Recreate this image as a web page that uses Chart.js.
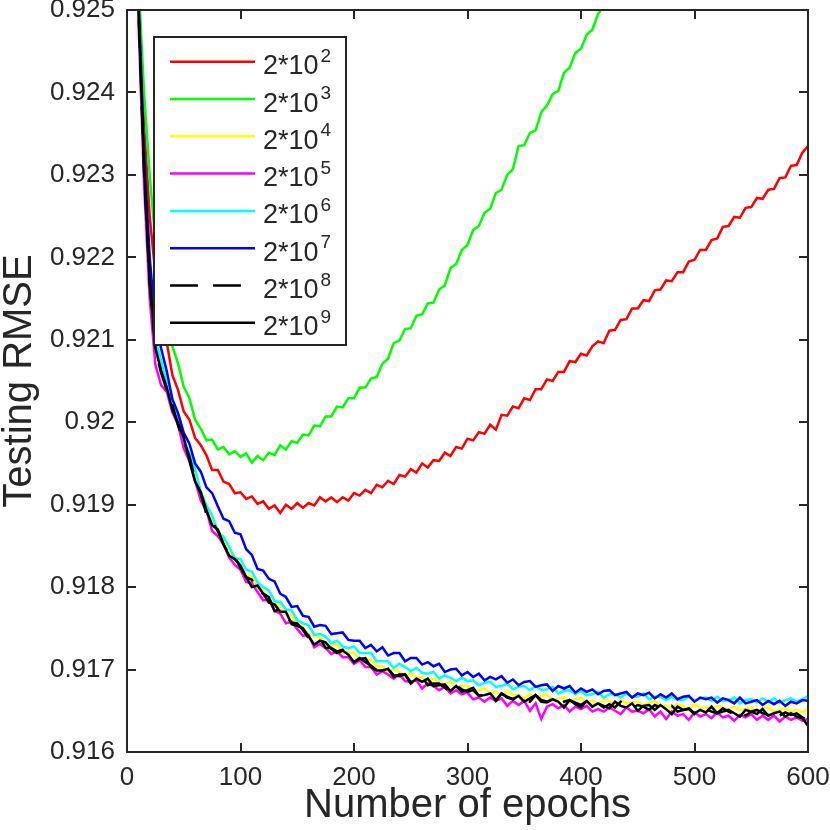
<!DOCTYPE html>
<html><head><meta charset="utf-8">
<script src="https://cdn.jsdelivr.net/npm/chart.js@4.4.1/dist/chart.umd.min.js"></script>
<style>html,body{margin:0;padding:0;background:#fff;}canvas{display:block;}</style>
</head><body>
<canvas id="c" width="830" height="830"></canvas>
<script>
const epochs = [0,5,10,15,20,25,30,
35,40,45,50,55,60,65,70,75,80,
85,90,95,100,105,110,115,120,125,130,
135,140,145,150,155,160,165,170,175,180,
185,190,195,200,205,210,215,220,225,230,
235,240,245,250,255,260,265,270,275,280,
285,290,295,300,305,310,315,320,325,330,
335,340,345,350,355,360,365,370,375,380,
385,390,395,400,405,410,415,420,425,430,
435,440,445,450,455,460,465,470,475,480,
485,490,495,500,505,510,515,520,525,530,
535,540,545,550,555,560,565,570,575,580,
585,590,595,600];

const s2e2 = [0.94000,0.92950,0.92530,0.92360,0.92250,0.92180,0.92130,
0.92097,0.92057,0.92039,0.92013,0.92003,0.91981,0.91972,0.91960,0.91942,0.91942,
0.91928,0.91925,0.91914,0.91915,0.91907,0.91910,0.91901,0.91904,0.91895,0.91899,
0.91890,0.91900,0.91895,0.91902,0.91896,0.91902,0.91899,0.91909,0.91904,0.91909,
0.91903,0.91909,0.91905,0.91914,0.91911,0.91918,0.91914,0.91924,0.91921,0.91929,
0.91925,0.91936,0.91934,0.91943,0.91939,0.91950,0.91945,0.91954,0.91953,0.91963,
0.91959,0.91970,0.91968,0.91980,0.91978,0.91988,0.91986,0.91997,0.91991,0.92009,
0.92008,0.92019,0.92017,0.92029,0.92027,0.92040,0.92040,0.92052,0.92050,0.92061,
0.92061,0.92074,0.92073,0.92083,0.92081,0.92092,0.92098,0.92096,0.92111,0.92112,
0.92124,0.92125,0.92138,0.92138,0.92148,0.92147,0.92160,0.92161,0.92172,0.92171,
0.92182,0.92182,0.92195,0.92197,0.92209,0.92209,0.92221,0.92223,0.92237,0.92238,
0.92249,0.92248,0.92260,0.92261,0.92272,0.92271,0.92282,0.92283,0.92296,0.92297,
0.92311,0.92312,0.92327,0.92335];

const s2e3 = [0.94000,0.92970,0.92540,0.92400,0.92300,0.92220,0.92165,
0.92127,0.92092,0.92071,0.92043,0.92029,0.92003,0.91992,0.91978,0.91979,0.91967,
0.91970,0.91961,0.91965,0.91958,0.91962,0.91951,0.91959,0.91954,0.91963,0.91960,
0.91972,0.91967,0.91977,0.91975,0.91985,0.91984,0.91996,0.91995,0.92007,0.92007,
0.92019,0.92018,0.92029,0.92029,0.92042,0.92042,0.92053,0.92055,0.92071,0.92077,
0.92096,0.92099,0.92113,0.92114,0.92129,0.92131,0.92144,0.92145,0.92161,0.92166,
0.92187,0.92192,0.92209,0.92215,0.92233,0.92238,0.92254,0.92259,0.92278,0.92282,
0.92300,0.92307,0.92335,0.92336,0.92351,0.92354,0.92376,0.92384,0.92398,0.92402,
0.92424,0.92430,0.92448,0.92453,0.92470,0.92476,0.92495,0.92505,0.92518,0.92530,
null,null,null,null,null,null,null,null,null,null,
null,null,null,null,null,null,null,null,null,null,
null,null,null,null,null,null,null,null,null,null,
null,null,null,null];

const s2e4 = [0.94000,0.92900,0.92515,0.92315,0.92175,0.92095,0.92068,
0.92044,0.92019,0.92003,0.91979,0.91961,0.91933,0.91916,0.91900,0.91879,0.91868,
0.91859,0.91841,0.91837,0.91827,0.91814,0.91813,0.91800,0.91796,0.91783,0.91783,
0.91774,0.91766,0.91766,0.91755,0.91752,0.91742,0.91741,0.91739,0.91730,0.91729,
0.91730,0.91720,0.91721,0.91720,0.91712,0.91712,0.91712,0.91704,0.91704,0.91697,
0.91701,0.91697,0.91692,0.91696,0.91690,0.91691,0.91684,0.91689,0.91685,0.91682,
0.91685,0.91678,0.91680,0.91680,0.91672,0.91675,0.91677,0.91671,0.91673,0.91668,
0.91674,0.91669,0.91669,0.91665,0.91670,0.91666,0.91668,0.91670,0.91663,0.91665,
0.91666,0.91660,0.91664,0.91666,0.91660,0.91662,0.91658,0.91663,0.91662,0.91656,
0.91663,0.91659,0.91660,0.91661,0.91656,0.91660,0.91662,0.91655,0.91657,0.91653,
0.91658,0.91656,0.91651,0.91658,0.91653,0.91654,0.91651,0.91656,0.91654,0.91651,
0.91655,0.91651,0.91652,0.91654,0.91649,0.91653,0.91654,0.91649,0.91651,0.91653,
0.91649,0.91651,0.91648,0.91652];

const s2e5 = [0.94000,0.92880,0.92490,0.92290,0.92150,0.92070,0.92045,
0.92037,0.92012,0.91997,0.91968,0.91953,0.91929,0.91905,0.91893,0.91868,0.91862,
0.91852,0.91836,0.91827,0.91821,0.91806,0.91805,0.91794,0.91784,0.91785,0.91771,
0.91768,0.91756,0.91758,0.91749,0.91741,0.91742,0.91727,0.91731,0.91726,0.91719,
0.91722,0.91715,0.91715,0.91707,0.91711,0.91703,0.91703,0.91694,0.91698,0.91694,
0.91689,0.91694,0.91686,0.91685,0.91687,0.91677,0.91683,0.91680,0.91675,0.91679,
0.91671,0.91675,0.91670,0.91672,0.91664,0.91666,0.91661,0.91666,0.91662,0.91665,
0.91656,0.91662,0.91657,0.91662,0.91650,0.91659,0.91640,0.91655,0.91658,0.91653,
0.91657,0.91649,0.91655,0.91652,0.91656,0.91649,0.91652,0.91649,0.91654,0.91650,
0.91646,0.91654,0.91649,0.91650,0.91647,0.91652,0.91643,0.91649,0.91640,0.91649,
0.91644,0.91646,0.91639,0.91648,0.91643,0.91646,0.91641,0.91648,0.91642,0.91644,
0.91638,0.91645,0.91642,0.91646,0.91639,0.91644,0.91639,0.91644,0.91637,0.91643,
0.91639,0.91642,0.91638,0.91640];

const s2e6 = [0.94000,0.92900,0.92515,0.92318,0.92180,0.92100,0.92075,
0.92048,0.92023,0.92007,0.91980,0.91962,0.91943,0.91916,0.91899,0.91887,0.91867,
0.91861,0.91849,0.91835,0.91834,0.91821,0.91819,0.91806,0.91800,0.91796,0.91783,
0.91782,0.91773,0.91772,0.91760,0.91756,0.91754,0.91742,0.91743,0.91740,0.91732,
0.91735,0.91728,0.91726,0.91728,0.91720,0.91720,0.91720,0.91710,0.91710,0.91710,
0.91702,0.91707,0.91703,0.91698,0.91702,0.91696,0.91695,0.91697,0.91689,0.91693,
0.91690,0.91686,0.91690,0.91686,0.91687,0.91681,0.91684,0.91685,0.91679,0.91680,
0.91683,0.91676,0.91679,0.91680,0.91675,0.91680,0.91675,0.91676,0.91679,0.91671,
0.91674,0.91675,0.91670,0.91674,0.91669,0.91670,0.91673,0.91666,0.91670,0.91670,
0.91666,0.91671,0.91667,0.91667,0.91671,0.91664,0.91667,0.91667,0.91663,0.91667,
0.91663,0.91663,0.91667,0.91662,0.91665,0.91666,0.91662,0.91667,0.91662,0.91663,
0.91666,0.91659,0.91663,0.91664,0.91660,0.91665,0.91661,0.91665,0.91660,0.91663,
0.91665,0.91661,0.91664,0.91668];

const s2e7 = [0.94000,0.92910,0.92520,0.92330,0.92200,0.92120,0.92090,
0.92062,0.92028,0.92011,0.91987,0.91974,0.91950,0.91940,0.91921,0.91914,0.91898,
0.91883,0.91880,0.91866,0.91864,0.91846,0.91839,0.91822,0.91820,0.91810,0.91807,
0.91792,0.91788,0.91776,0.91777,0.91765,0.91764,0.91752,0.91754,0.91753,0.91743,
0.91744,0.91745,0.91736,0.91735,0.91735,0.91726,0.91730,0.91722,0.91727,0.91717,
0.91720,0.91720,0.91710,0.91714,0.91714,0.91706,0.91709,0.91704,0.91707,0.91697,
0.91700,0.91701,0.91693,0.91697,0.91691,0.91695,0.91687,0.91691,0.91688,0.91692,
0.91684,0.91688,0.91681,0.91685,0.91686,0.91679,0.91681,0.91682,0.91674,0.91680,
0.91677,0.91680,0.91672,0.91677,0.91673,0.91676,0.91670,0.91674,0.91675,0.91669,
0.91671,0.91673,0.91666,0.91671,0.91669,0.91672,0.91665,0.91670,0.91666,0.91671,
0.91664,0.91667,0.91668,0.91661,0.91666,0.91664,0.91666,0.91660,0.91665,0.91663,
0.91659,0.91666,0.91659,0.91661,0.91663,0.91657,0.91662,0.91658,0.91662,0.91656,
0.91661,0.91659,0.91663,0.91662];

const s2e8 = [0.94000,0.92900,0.92505,0.92305,0.92168,0.92088,0.92060,
0.92039,0.92021,0.91996,0.91977,0.91959,0.91930,0.91913,0.91888,0.91880,0.91868,
0.91852,0.91839,0.91837,0.91823,0.91812,0.91809,0.91795,0.91792,0.91788,0.91771,
0.91773,0.91765,0.91757,0.91756,0.91748,0.91738,0.91739,0.91738,0.91726,0.91726,
0.91722,0.91724,0.91715,0.91709,0.91714,0.91709,0.91705,0.91699,0.91701,0.91701,
0.91693,0.91692,0.91694,0.91685,0.91688,0.91691,0.91681,0.91683,0.91683,0.91678,
0.91673,0.91681,0.91676,0.91673,0.91675,0.91668,0.91670,0.91671,0.91662,0.91671,
0.91667,0.91664,0.91668,0.91664,0.91661,0.91669,0.91663,0.91661,0.91664,0.91657,
0.91661,0.91663,0.91658,0.91654,0.91662,0.91658,0.91659,0.91654,0.91658,0.91654,
0.91661,0.91655,0.91653,0.91657,0.91655,0.91651,0.91657,0.91654,0.91651,0.91656,
0.91649,0.91651,0.91652,0.91646,0.91653,0.91652,0.91649,0.91647,0.91653,0.91649,
0.91646,0.91650,0.91644,0.91649,0.91651,0.91647,0.91645,0.91651,0.91644,0.91648,
0.91645,0.91647,0.91642,0.91638];

const s2e9 = [0.94000,0.92900,0.92510,0.92310,0.92170,0.92090,0.92063,
0.92042,0.92015,0.91999,0.91981,0.91953,0.91928,0.91915,0.91893,0.91875,0.91870,
0.91852,0.91838,0.91834,0.91826,0.91812,0.91800,0.91802,0.91792,0.91781,0.91779,
0.91770,0.91770,0.91755,0.91753,0.91750,0.91740,0.91730,0.91735,0.91733,0.91725,
0.91720,0.91723,0.91718,0.91709,0.91713,0.91714,0.91703,0.91699,0.91699,0.91701,
0.91691,0.91694,0.91694,0.91683,0.91689,0.91685,0.91689,0.91680,0.91681,0.91682,
0.91674,0.91680,0.91673,0.91675,0.91678,0.91668,0.91669,0.91671,0.91663,0.91671,
0.91666,0.91664,0.91668,0.91661,0.91665,0.91669,0.91661,0.91660,0.91664,0.91661,
0.91654,0.91663,0.91660,0.91657,0.91662,0.91655,0.91659,0.91656,0.91653,0.91661,
0.91656,0.91654,0.91659,0.91650,0.91656,0.91657,0.91651,0.91657,0.91652,0.91646,
0.91655,0.91651,0.91653,0.91647,0.91651,0.91648,0.91655,0.91647,0.91649,0.91651,
0.91647,0.91643,0.91651,0.91649,0.91646,0.91652,0.91644,0.91647,0.91649,0.91643,
0.91647,0.91643,0.91641,0.91632];

const legendBase = '2*10';
const legendExp = ['2','3','4','5','6','7','8','9'];
const seriesColors = ['#ff0000','#00ff00','#ffff00','#ff00ff','#00ffff','#0000ff','#000000','#000000'];
const seriesDash = [[],[],[],[],[],[],[28,15],[]];
const xTicks = [0,100,200,300,400,500,600];
const yTicks = [0.916,0.917,0.918,0.919,0.920,0.921,0.922,0.923,0.924,0.925];

const allSeries = [s2e2,s2e3,s2e4,s2e5,s2e6,s2e7,s2e8,s2e9];
const FONT = "'Liberation Sans', Arial, Helvetica, sans-serif";
const INK = '#262626';

const datasets = allSeries.map((vals, i) => ({
  label: legendBase + '^' + legendExp[i],
  data: epochs.map((e, j) => ({x: e, y: vals[j]})),
  borderColor: seriesColors[i],
  backgroundColor: seriesColors[i],
  borderWidth: 2.5,
  borderDash: seriesDash[i],
  pointRadius: 0,
  tension: 0,
  fill: false,
  spanGaps: false,
  order: allSeries.length - i
}));

const framePlugin = {
  id: 'frameLegend',
  afterDatasetsDraw(chart) {
    const {ctx, chartArea: a, scales: {x, y}} = chart;
    ctx.save();
    ctx.strokeStyle = INK;
    ctx.lineWidth = 2;
    ctx.setLineDash([]);
    ctx.strokeRect(a.left, a.top, a.right - a.left, a.bottom - a.top);
    const L = 9;
    ctx.beginPath();
    xTicks.forEach(v => {
      const px = Math.round(x.getPixelForValue(v));
      ctx.moveTo(px, a.bottom); ctx.lineTo(px, a.bottom - L);
      ctx.moveTo(px, a.top); ctx.lineTo(px, a.top + L);
    });
    yTicks.forEach(v => {
      const py = Math.round(y.getPixelForValue(v));
      ctx.moveTo(a.left, py); ctx.lineTo(a.left + L, py);
      ctx.moveTo(a.right, py); ctx.lineTo(a.right - L, py);
    });
    ctx.stroke();

    // legend box
    const lx = a.left + 27, ly = a.top + 27, lw = 192, lh = 308;
    ctx.fillStyle = '#ffffff';
    ctx.fillRect(lx, ly, lw, lh);
    ctx.strokeStyle = INK;
    ctx.lineWidth = 2;
    ctx.strokeRect(lx, ly, lw, lh);
    const rowH = 37.3;
    for (let i = 0; i < allSeries.length; i++) {
      const cy = ly + 24.7 + i * rowH;
      ctx.beginPath();
      ctx.strokeStyle = seriesColors[i];
      ctx.lineWidth = 2.5;
      ctx.setLineDash(seriesDash[i]);
      ctx.moveTo(lx + 16, cy);
      ctx.lineTo(lx + 101, cy);
      ctx.stroke();
      ctx.setLineDash([]);
      ctx.fillStyle = INK;
      ctx.textBaseline = 'alphabetic';
      ctx.textAlign = 'left';
      ctx.font = '27px ' + FONT;
      const tx = lx + 109;
      ctx.fillText(legendBase, tx, cy + 12.5);
      const w = ctx.measureText(legendBase).width;
      ctx.font = '19px ' + FONT;
      ctx.fillText(legendExp[i], tx + w + 2, cy);
    }
    ctx.restore();
  }
};

new Chart(document.getElementById('c'), {
  type: 'line',
  data: { datasets },
  options: {
    responsive: false,
    animation: false,
    devicePixelRatio: 1,
    layout: { padding: { left: 0, right: 22, top: 10, bottom: 0 } },
    plugins: { legend: { display: false }, tooltip: { enabled: false } },
    scales: {
      x: {
        type: 'linear',
        min: 0, max: 600,
        afterBuildTicks: s => { s.ticks = xTicks.map(v => ({value: v})); },
        afterFit: s => { s.height = 78; s.paddingLeft = 0; s.paddingRight = 0; },
        grid: { display: false, drawTicks: false },
        border: { display: false },
        ticks: { color: INK, font: { family: FONT, size: 26 }, padding: 10, maxRotation: 0, autoSkip: false },
        title: { display: true, text: 'Number of epochs', color: INK, font: { family: FONT, size: 40, lineHeight: 1 }, padding: { top: 0, bottom: 4 } }
      },
      y: {
        type: 'linear',
        min: 0.916, max: 0.925,
        afterBuildTicks: s => { s.ticks = yTicks.map(v => ({value: v})); },
        afterFit: s => { s.width = 127; s.paddingTop = 0; s.paddingBottom = 0; },
        grid: { display: false, drawTicks: false },
        border: { display: false },
        ticks: { color: INK, font: { family: FONT, size: 26 }, padding: 12, autoSkip: false, callback: v => String(Number(Number(v).toFixed(3))) },
        title: { display: true, text: 'Testing RMSE', color: INK, font: { family: FONT, size: 40, lineHeight: 1 }, padding: { top: 0, bottom: 0 } }
      }
    }
  },
  plugins: [framePlugin]
});
</script>
</body></html>
